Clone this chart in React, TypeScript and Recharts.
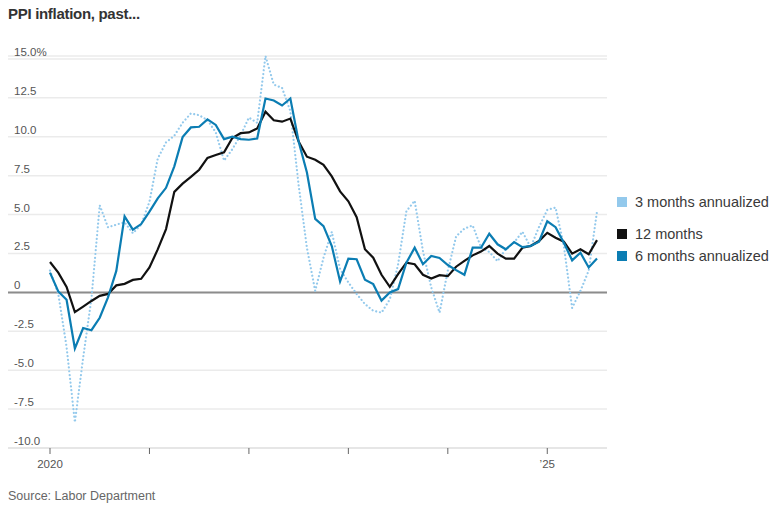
import { LineChart, Line, XAxis, YAxis, CartesianGrid, ReferenceLine } from 'recharts';

// monthly, Jan 2020 .. Jul 2025
const threeMonth = [
  1.4, -0.1, -3.5, -8.35, -4.2, -0.4, 5.6, 4.18, 4.35, 4.5, 3.8, 4.35,
  5.83, 8.6, 9.64, 10.07, 10.9, 11.5, 11.38, 11.08, 10.28, 8.47, 9.2, 10.1,
  11.23, 10.9, 15.19, 13.35, 13.14, 11.65, 6.89, 2.86, 0.1, 2.23, 3.89, 1.5,
  0.64, -0.1, -0.75, -1.18, -1.3, -0.45, 1.8, 5.21, 5.89, 2.66, 0.32, -1.3,
  1.4, 3.6, 4.1, 4.3, 2.9, 2.6, 2.0, 2.8, 3.2, 3.9, 2.9, 4.2,
  5.3, 5.45, 3.0, -1.0, 0.1, 1.4, 5.2,
];

const twelveMonth = [
  1.95, 1.27, 0.35, -1.27, -0.91, -0.55, -0.22, -0.1, 0.45, 0.55, 0.8, 0.87,
  1.6, 2.76, 4.07, 6.46, 6.99, 7.42, 7.88, 8.64, 8.83, 9.0, 9.92, 10.23,
  10.28, 10.53, 11.61, 11.06, 10.97, 11.17, 9.7, 8.72, 8.52, 8.19, 7.45, 6.49,
  5.85, 4.83, 2.77, 2.23, 1.13, 0.36, 1.17, 1.91, 1.81, 1.13, 0.89, 1.11,
  1.04, 1.65, 2.02, 2.38, 2.62, 2.98, 2.49, 2.17, 2.17, 2.87, 2.98, 3.3,
  3.83, 3.51, 3.26, 2.49, 2.77, 2.45, 3.36,
];

const sixMonth = [
  1.27, 0.06, -0.48, -3.6, -2.29, -2.43, -1.63, -0.32, 1.38, 4.88, 4.03, 4.39,
  5.19, 6.04, 6.72, 8.1, 9.98, 10.6, 10.64, 11.12, 10.76, 9.85, 10.0, 9.85,
  9.81, 9.89, 12.46, 12.33, 12.01, 12.46, 9.7, 7.7, 4.72, 4.26, 2.98, 0.7,
  2.17, 2.13, 0.81, 0.53, -0.53, 0.0, 0.21, 1.91, 2.87, 1.81, 2.34, 2.21,
  1.76, 1.43, 1.13, 2.87, 2.87, 3.77, 3.09, 2.77, 3.23, 2.91, 2.98, 3.26,
  4.57, 4.19, 3.19, 2.06, 2.55, 1.6, 2.17,
];

const yTicks = [-10, -7.5, -5, -2.5, 0, 2.5, 5, 7.5, 10, 12.5, 15];
const xTicks = [0, 12, 24, 36, 48, 60];
const xTickLabels: Record<number, string> = { 0: '2020', 60: '\u201925' };

const data = twelveMonth.map((v, i) => ({
  i,
  three: threeMonth[i],
  twelve: v,
  six: sixMonth[i],
}));

const FONT = '"Liberation Sans", Arial, sans-serif';
const LIGHT = '#93c9ec';
const BLUE = '#0b7db3';
const BLACK = '#111111';

const legendItems = [
  { label: '3 months annualized', color: LIGHT, gap: 0 },
  { label: '12 months', color: BLACK, gap: 10 },
  { label: '6 months annualized', color: BLUE, gap: 0 },
];

function formatY(v: number) {
  if (v === 15) return '15.0%';
  if (v === 0) return '0';
  return v.toFixed(1);
}

function renderYTick(props: any) {
  const { y, payload } = props;
  return (
    <text
      key={payload.value}
      x={14}
      y={y - 3}
      fill="#555"
      fontSize={11.5}
      fontFamily={FONT}
      textAnchor="start"
    >
      {formatY(payload.value)}
    </text>
  );
}

export default function App() {
  return (
    <div style={{ position: 'relative', width: 776, height: 511, fontFamily: FONT, background: '#fff' }}>
      <style>{'body{margin:0}'}</style>
      <div
        style={{
          position: 'absolute',
          left: 8,
          top: 5,
          fontSize: 15,
          lineHeight: '18px',
          fontWeight: 700,
          color: '#333',
          letterSpacing: -0.3,
        }}
      >
        PPI inflation, past...
      </div>

      <div style={{ position: 'absolute', left: 0, top: 0 }}>
        <LineChart width={776} height={480} data={data} margin={{ top: 56, right: 169, bottom: 2, left: 7 }}>
          <CartesianGrid vertical={false} stroke="#ebebeb" strokeWidth={1.5} />
          <XAxis
            dataKey="i"
            type="number"
            domain={[0, 66]}
            ticks={xTicks}
            padding={{ left: 42, right: 10 }}
            tickFormatter={(v: number) => xTickLabels[v] ?? ''}
            tick={{ fill: '#555', fontSize: 11.5, fontFamily: FONT }}
            tickLine={{ stroke: '#666' }}
            tickSize={6}
            tickMargin={6}
            axisLine={{ stroke: '#e6e6e6', strokeWidth: 2 }}
            height={30}
          />
          <YAxis
            type="number"
            domain={[-10, 15]}
            ticks={yTicks}
            width={1}
            axisLine={false}
            tickLine={false}
            tick={renderYTick}
            interval={0}
          />
          <ReferenceLine y={0} stroke="#8c8c8c" strokeWidth={2} />
          <Line
            type="linear"
            dataKey="three"
            stroke={LIGHT}
            strokeWidth={2.2}
            strokeDasharray="0.01 3.8"
            strokeLinecap="round"
            dot={false}
            isAnimationActive={false}
          />
          <Line type="linear" dataKey="twelve" stroke={BLACK} strokeWidth={2.2} dot={false} isAnimationActive={false} />
          <Line type="linear" dataKey="six" stroke={BLUE} strokeWidth={2.2} dot={false} isAnimationActive={false} />
        </LineChart>
      </div>

      <div style={{ position: 'absolute', left: 617, top: 191 }}>
        {legendItems.map((item) => (
          <div
            key={item.label}
            style={{
              display: 'flex',
              alignItems: 'center',
              height: 22,
              marginTop: item.gap,
              fontSize: 14.5,
              color: '#3a3a3a',
            }}
          >
            <span style={{ display: 'inline-block', width: 10, height: 10, background: item.color, marginRight: 8 }} />
            <span style={{ whiteSpace: 'nowrap' }}>{item.label}</span>
          </div>
        ))}
      </div>

      <div style={{ position: 'absolute', left: 8, top: 488, fontSize: 12.5, lineHeight: '16px', color: '#666' }}>
        Source: Labor Department
      </div>
    </div>
  );
}
